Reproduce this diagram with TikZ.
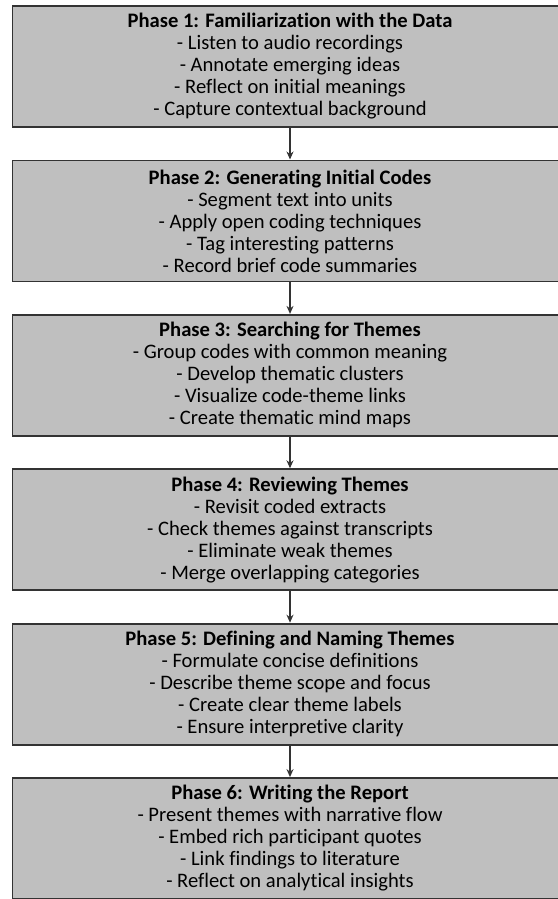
\documentclass[tikz,border=0pt]{standalone}
\usepackage{fontspec}
\setmainfont{Carlito}[RawFeature=-liga]
\usetikzlibrary{arrows.meta}
\begin{document}
\begin{tikzpicture}[x=1pt,y=1pt,
  phasebox/.style={draw=black!80, line width=1.8pt, fill=black!25, minimum width=555pt, minimum height=121pt, inner sep=0pt, align=center, font=\fontsize{20.6}{22}\selectfont, text=black},
  flowarrow/.style={draw=black!80, line width=1.3pt, -{Stealth[length=8pt,width=7pt]}}]
\useasboundingbox (0,0) rectangle (557,-899);
\node[phasebox] (p1) at (290,-66.5) {\textbf{Phase 1: Familiarization with the Data}\\- Listen to audio recordings\\- Annotate emerging ideas\\- Reflect on initial meanings\\- Capture contextual background};
\node[phasebox] (p2) at (290,-220.9) {\textbf{Phase 2: Generating Initial Codes}\\- Segment text into units\\- Apply open coding techniques\\- Tag interesting patterns\\- Record brief code summaries};
\node[phasebox] (p3) at (290,-375.3) {\textbf{Phase 3: Searching for Themes}\\- Group codes with common meaning\\- Develop thematic clusters\\- Visualize code-theme links\\- Create thematic mind maps};
\node[phasebox] (p4) at (290,-529.7) {\textbf{Phase 4: Reviewing Themes}\\- Revisit coded extracts\\- Check themes against transcripts\\- Eliminate weak themes\\- Merge overlapping categories};
\node[phasebox] (p5) at (290,-684.1) {\textbf{Phase 5: Defining and Naming Themes}\\- Formulate concise definitions\\- Describe theme scope and focus\\- Create clear theme labels\\- Ensure interpretive clarity};
\node[phasebox] (p6) at (290,-838.5) {\textbf{Phase 6: Writing the Report}\\- Present themes with narrative flow\\- Embed rich participant quotes\\- Link findings to literature\\- Reflect on analytical insights};
\draw[flowarrow] (p1.south) -- (p2.north);
\draw[flowarrow] (p2.south) -- (p3.north);
\draw[flowarrow] (p3.south) -- (p4.north);
\draw[flowarrow] (p4.south) -- (p5.north);
\draw[flowarrow] (p5.south) -- (p6.north);
\end{tikzpicture}
\end{document}
